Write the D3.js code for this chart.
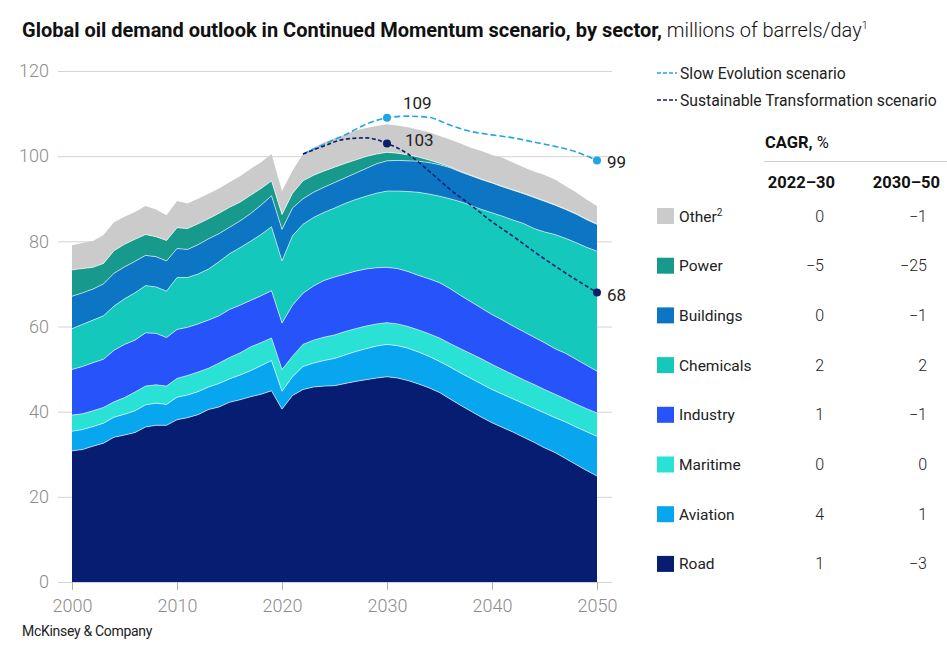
<!DOCTYPE html>
<html>
<head>
<meta charset="utf-8">
<script src="https://cdn.jsdelivr.net/npm/d3@7"></script>
<style>
  body { margin: 0; background: #fff; }
  svg { display: block; font-family: Roboto, "Liberation Sans", Arial, sans-serif; }
</style>
</head>
<body>
<svg id="chart"></svg>
<script>
/*------------------------
  ------ VARIABLES -------
  ------------------------*/

// input
var years = d3.range(2000, 2051) ;

var road = [30.8, 31.1, 31.9, 32.6, 34.0, 34.5, 35.1, 36.4, 36.8, 36.8,
            38.1, 38.6, 39.3, 40.5, 41.1, 42.2, 42.8, 43.5, 44.1, 44.9,
            40.6, 43.8, 45.2, 45.8, 46.0, 46.1, 46.6, 47.1, 47.5, 47.9,
            48.2, 47.9, 47.3, 46.5, 45.6, 44.5, 43.0, 41.5, 40.1, 38.7,
            37.4, 36.3, 35.2, 34.0, 32.8, 31.5, 30.4, 29.0, 27.6, 26.2, 24.9] ;
var aviation = [4.6, 4.7, 4.6, 4.7, 4.7, 4.9, 5.1, 5.2, 5.2, 4.9,
                5.3, 5.3, 5.4, 5.3, 5.5, 5.5, 5.8, 6.1, 6.7, 7.1,
                4.2, 4.4, 5.4, 5.6, 6.0, 6.4, 6.7, 7.0, 7.3, 7.5,
                7.6, 7.6, 7.6, 7.5, 7.4, 7.3, 7.5, 7.6, 7.7, 7.8,
                7.8, 7.8, 7.8, 7.9, 8.0, 8.2, 8.2, 8.6, 8.8, 9.1, 9.3] ;
var maritime = [3.8, 3.7, 3.7, 3.7, 3.6, 3.9, 4.4, 4.4, 4.3, 4.3,
                4.4, 4.6, 4.6, 4.4, 4.8, 5.0, 5.2, 5.6, 5.4, 5.3,
                5.1, 4.8, 5.2, 5.4, 5.5, 5.5, 5.5, 5.4, 5.3, 5.2,
                5.1, 5.1, 5.1, 5.2, 5.3, 5.5, 5.5, 5.7, 5.8, 5.9,
                5.9, 5.8, 5.7, 5.6, 5.6, 5.5, 5.5, 5.4, 5.4, 5.4, 5.5] ;
var industry = [10.7, 11.1, 11.3, 11.3, 12.1, 12.5, 12.2, 12.5, 12.1, 11.4,
                11.5, 11.3, 11.3, 11.3, 11.1, 11.3, 11.2, 10.9, 11.0, 11.1,
                10.9, 12.0, 12.0, 12.7, 13.3, 13.6, 13.5, 13.5, 13.4, 13.2,
                13.0, 13.0, 12.9, 12.8, 12.9, 13.0, 12.9, 12.5, 12.2, 11.9,
                11.7, 11.6, 11.4, 11.3, 11.1, 11.0, 10.7, 10.7, 10.5, 10.2, 9.8] ;
var chemicals = [9.6, 9.9, 10.0, 10.2, 10.4, 10.7, 11.1, 11.1, 10.9, 10.9,
                 12.2, 11.7, 11.7, 12.0, 12.7, 13.1, 13.5, 13.9, 14.4, 15.0,
                 14.6, 16.3, 16.2, 16.1, 16.0, 16.2, 16.6, 16.8, 17.1, 17.5,
                 17.9, 18.2, 18.8, 19.5, 19.9, 20.3, 21.1, 22.0, 22.6, 23.2,
                 23.9, 24.4, 24.9, 25.4, 25.5, 26.0, 26.8, 27.0, 27.4, 27.7, 28.2] ;
var buildings = [7.6, 7.4, 7.3, 7.5, 7.7, 7.5, 7.4, 7.1, 7.1, 7.1,
                 6.8, 6.6, 6.9, 7.1, 6.6, 6.2, 6.3, 6.5, 6.9, 7.3,
                 7.4, 6.5, 6.0, 5.9, 5.9, 6.0, 6.0, 6.2, 6.5, 6.9,
                 7.1, 7.2, 7.2, 7.3, 7.4, 7.4, 7.3, 7.0, 7.0, 7.0,
                 7.0, 6.9, 7.0, 7.0, 7.3, 7.2, 6.9, 6.8, 6.7, 6.5, 6.3] ;
var power = [6.2, 5.7, 5.1, 4.8, 5.3, 5.3, 5.2, 4.9, 4.7, 4.8,
             4.9, 4.9, 4.9, 4.7, 4.8, 4.7, 4.4, 4.3, 3.9, 3.5,
             3.5, 3.5, 4.2, 4.0, 3.8, 3.6, 3.4, 3.1, 2.8, 2.3,
             2.0, 1.7, 1.4, 1.0, 0.6, 0.35, 0.2, 0.15, 0.1, 0.1,
             0.1, 0.1, 0.1, 0.1, 0.1, 0.1, 0.1, 0.1, 0.1, 0.1, 0.05] ;
var other = [5.8, 6.0, 6.2, 6.7, 6.7, 6.5, 6.4, 6.7, 6.4, 5.9,
             6.3, 5.9, 5.9, 5.9, 5.8, 5.9, 6.1, 6.2, 6.2, 6.3,
             5.5, 5.3, 6.3, 6.5, 6.7, 6.8, 6.8, 6.9, 6.7, 6.6,
             6.6, 6.5, 6.5, 6.4, 6.5, 6.4, 6.4, 6.5, 6.5, 6.6,
             6.5, 6.7, 6.4, 6.1, 6.0, 6.1, 5.9, 5.4, 5.0, 4.6, 4.25] ;

// scenario lines
var scen_years = [2022, 2024, 2026, 2028, 2030, 2032, 2034, 2036, 2038, 2040, 2042, 2044, 2046, 2048, 2050] ;
var slow_evolution = [100.5, 102.8, 105.0, 107.5, 109.0, 109.4, 109.1, 107.3, 105.8, 105.0, 104.3, 103.3, 102.3, 101.0, 99.0] ;
var sust_transfo = [100.5, 102.4, 104.0, 104.3, 103.0, 100.5, 96.5, 92.2, 88.5, 84.6, 81.2, 77.6, 74.2, 71.0, 68.0] ;
var scen_labels = [{year: 2030, value: 109, txt: "109"}, {year: 2050, value: 99, txt: "99"},
                   {year: 2030, value: 103, txt: "103"}, {year: 2050, value: 68, txt: "68"}] ;

// sectors, bottom to top
var sector_keys = ["road", "aviation", "maritime", "industry", "chemicals", "buildings", "power", "other"] ;
var sector_names = ["Road", "Aviation", "Maritime", "Industry", "Chemicals", "Buildings", "Power", "Other"] ;
var cagr_22_30 = ["1", "4", "0", "1", "2", "0", "\u22125", "0"] ;
var cagr_30_50 = ["\u22123", "1", "0", "\u22121", "2", "\u22121", "\u221225", "\u22121"] ;

var y_ticks = [0, 20, 40, 60, 80, 100, 120] ;
var x_ticks = [2000, 2010, 2020, 2030, 2040, 2050] ;

// display
var svg_w = 947, svg_h = 646 ;
var plot = {left: 72, right: 597, top: 71, bot: 582, grid_l: 58, grid_r: 612} ;
var colors = {road: "#061d72", aviation: "#08a6ee", maritime: "#2ae1d6", industry: "#2753fb",
              chemicals: "#14c9bb", buildings: "#0c75c4", power: "#179a8c", other: "#cbcbcb"} ;
var slow_col = "#1ea6e4", sust_col = "#0a1f6b" ;
var legend = {x: 657, row0: 216, row_h: 49.7, sw: 17, sh: 16, col1: 824, col2: 927} ;


var x = d3.scaleLinear().domain([2000, 2050]).range([plot.left, plot.right]) ;
var y = d3.scaleLinear().domain([0, 120]).range([plot.bot, plot.top]) ;

var svg = d3.select("#chart").attr("width", svg_w).attr("height", svg_h) ;


/*------------------------
  ------ TITLE -----------
  ------------------------*/

function display_title() {
    var t = svg.append("text")
        .attr("x", 22)
        .attr("y", 37)
        .attr("font-size", 20)
        .attr("fill", "#111") ;
    t.append("tspan")
        .attr("font-weight", 700)
        .text("Global oil demand outlook in Continued Momentum scenario, by sector,") ;
    t.append("tspan")
        .attr("font-weight", 300)
        .text(" millions of barrels/day") ;
    t.append("tspan")
        .attr("font-size", 11)
        .attr("dy", -8)
        .attr("font-weight", 300)
        .text("1") ;

    svg.append("text")
        .attr("x", 22)
        .attr("y", 636)
        .attr("font-size", 14)
        .attr("fill", "#222")
        .attr("letter-spacing", -0.3)
        .text("McKinsey & Company") ;
}


/*------------------------
  ------ AXES ------------
  ------------------------*/

function display_axes() {
    var gy = svg.append("g")
        .attr("class", "y-axis")
        .attr("transform", "translate(" + plot.grid_l + ",0)")
        .call(d3.axisLeft(y).tickValues(y_ticks)
              .tickSize(-(plot.grid_r - plot.grid_l)).tickPadding(9)) ;
    gy.select(".domain").remove() ;
    gy.selectAll(".tick line").attr("stroke", "#d4d4d4") ;
    gy.selectAll(".tick text")
        .attr("font-size", 18)
        .attr("font-weight", 300)
        .attr("fill", "#8c8c8c")
        .attr("font-family", "Roboto, sans-serif") ;

    var gx = svg.append("g")
        .attr("class", "x-axis")
        .attr("transform", "translate(0," + plot.bot + ")")
        .call(d3.axisBottom(x).tickValues(x_ticks).tickFormat(d3.format("d"))
              .tickSize(8).tickPadding(9)) ;
    gx.select(".domain").remove() ;
    gx.selectAll(".tick line").attr("stroke", "#b0b0b0") ;
    gx.selectAll(".tick text")
        .attr("font-size", 18)
        .attr("font-weight", 300)
        .attr("fill", "#8c8c8c")
        .attr("font-family", "Roboto, sans-serif") ;
}


/*------------------------
  ------ AREAS -----------
  ------------------------*/

function build_rows() {
    var series = {road: road, aviation: aviation, maritime: maritime, industry: industry,
                  chemicals: chemicals, buildings: buildings, power: power, other: other} ;
    return years.map(function(yr, i) {
        var row = {year: yr} ;
        sector_keys.forEach(function(k) { row[k] = series[k][i] ; }) ;
        return row ;
    }) ;
}

function display_areas() {
    var stacked = d3.stack().keys(sector_keys)(build_rows()) ;

    var area = d3.area()
        .x(function(d) { return x(d.data.year) ; })
        .y0(function(d) { return y(d[0]) ; })
        .y1(function(d) { return y(d[1]) ; }) ;
    var top_line = d3.line()
        .x(function(d) { return x(d.data.year) ; })
        .y(function(d) { return y(d[1]) ; }) ;

    var layer = svg.append("g").attr("class", "areas-layer") ;
    layer.selectAll(".sector")
        .data(stacked)
        .enter()
        .append("path")
        .attr("class", "sector")
        .attr("d", area)
        .attr("fill", function(s) { return colors[s.key] ; }) ;

    layer.selectAll(".sep")
        .data(stacked.slice(0, stacked.length - 1))
        .enter()
        .append("path")
        .attr("class", "sep")
        .attr("d", top_line)
        .attr("fill", "none")
        .attr("stroke", "#fff")
        .attr("stroke-opacity", 0.75)
        .attr("stroke-width", 0.8) ;
}


/*------------------------
  ---- SCENARIO LINES ----
  ------------------------*/

function display_scenarios() {
    var line = d3.line()
        .curve(d3.curveMonotoneX)
        .x(function(d) { return x(d.year) ; })
        .y(function(d) { return y(d.value) ; }) ;
    var slow = scen_years.map(function(yr, i) { return {year: yr, value: slow_evolution[i]} ; }) ;
    var sust = scen_years.map(function(yr, i) { return {year: yr, value: sust_transfo[i]} ; }) ;

    var g = svg.append("g").attr("class", "scenario-layer") ;
    g.append("path").attr("d", line(slow))
        .attr("fill", "none").attr("stroke", slow_col)
        .attr("stroke-width", 1.6).attr("stroke-dasharray", "6,3") ;
    g.append("path").attr("d", line(sust))
        .attr("fill", "none").attr("stroke", sust_col)
        .attr("stroke-width", 1.6).attr("stroke-dasharray", "4,2.5") ;

    var dots = [{year: 2030, value: slow_evolution[4], c: slow_col},
                {year: 2050, value: slow_evolution[14], c: slow_col},
                {year: 2030, value: sust_transfo[4], c: sust_col},
                {year: 2050, value: sust_transfo[14], c: sust_col}] ;
    g.selectAll(".dot")
        .data(dots)
        .enter()
        .append("circle")
        .attr("cx", function(d) { return x(d.year) ; })
        .attr("cy", function(d) { return y(d.value) ; })
        .attr("r", 4)
        .attr("fill", function(d) { return d.c ; }) ;

    var offs = [{dx: 16, dy: -9}, {dx: 10, dy: 8}, {dx: 18, dy: 3}, {dx: 10, dy: 9}] ;
    g.selectAll(".dot-label")
        .data(scen_labels)
        .enter()
        .append("text")
        .attr("x", function(d, i) { return x(d.year) + offs[i].dx ; })
        .attr("y", function(d, i) { return y(d.value) + offs[i].dy ; })
        .attr("font-size", 17)
        .attr("fill", "#222")
        .text(function(d) { return d.txt ; }) ;
}


/*------------------------
  ------ LEGEND ----------
  ------------------------*/

function display_legend() {
    var g = svg.append("g").attr("class", "legend-layer") ;
    var lines = [{txt: "Slow Evolution scenario", c: slow_col, dash: "4,2", y: 73},
                 {txt: "Sustainable Transformation scenario", c: sust_col, dash: "4,2", y: 100}] ;
    lines.forEach(function(l) {
        g.append("line")
            .attr("x1", legend.x).attr("x2", legend.x + 20)
            .attr("y1", l.y).attr("y2", l.y)
            .attr("stroke", l.c).attr("stroke-width", 1.5)
            .attr("stroke-dasharray", l.dash) ;
        g.append("text")
            .attr("x", legend.x + 23).attr("y", l.y + 5.5)
            .attr("font-size", 15.7).attr("fill", "#222")
            .text(l.txt) ;
    }) ;

    var cagr = g.append("text").attr("x", 765).attr("y", 148).attr("font-size", 16.5).attr("fill", "#111") ;
    cagr.append("tspan").attr("font-weight", 700).text("CAGR,") ;
    cagr.append("tspan").text(" %") ;
    g.append("line")
        .attr("x1", 764).attr("x2", 947)
        .attr("y1", 161.5).attr("y2", 161.5)
        .attr("stroke", "#cfcfcf") ;
    g.append("text").attr("x", 835).attr("y", 188).attr("text-anchor", "end")
        .attr("font-size", 16.5).attr("font-weight", 700).attr("fill", "#111").text("2022\u201330") ;
    g.append("text").attr("x", 940).attr("y", 188).attr("text-anchor", "end")
        .attr("font-size", 16.5).attr("font-weight", 700).attr("fill", "#111").text("2030\u201350") ;

    var rows = g.selectAll(".legend-row")
        .data(sector_keys.slice().reverse())
        .enter()
        .append("g")
        .attr("class", "legend-row")
        .attr("transform", function(k, i) { return "translate(0," + (legend.row0 + i * legend.row_h) + ")" ; }) ;

    rows.append("rect")
        .attr("x", legend.x).attr("y", -legend.sh / 2)
        .attr("width", legend.sw).attr("height", legend.sh)
        .attr("fill", function(k) { return colors[k] ; }) ;

    var names = rows.append("text")
        .attr("x", legend.x + 22).attr("y", 5.5)
        .attr("font-size", 15.5).attr("fill", "#222") ;
    names.append("tspan").text(function(k) { return sector_names[sector_keys.indexOf(k)] ; }) ;
    names.filter(function(k) { return k == "other" ; })
        .append("tspan").attr("font-size", 10).attr("dy", -6).text("2") ;

    rows.append("text")
        .attr("x", legend.col1).attr("y", 5.5).attr("text-anchor", "end")
        .attr("font-size", 16).attr("font-weight", 300).attr("fill", "#222")
        .text(function(k) { return cagr_22_30[sector_keys.indexOf(k)] ; }) ;
    rows.append("text")
        .attr("x", legend.col2).attr("y", 5.5).attr("text-anchor", "end")
        .attr("font-size", 16).attr("font-weight", 300).attr("fill", "#222")
        .text(function(k) { return cagr_30_50[sector_keys.indexOf(k)] ; }) ;
}


/*------------------
  ------ RUN -------
  ------------------*/

display_title() ;
display_axes() ;
display_areas() ;
display_scenarios() ;
display_legend() ;
</script>
</body>
</html>
